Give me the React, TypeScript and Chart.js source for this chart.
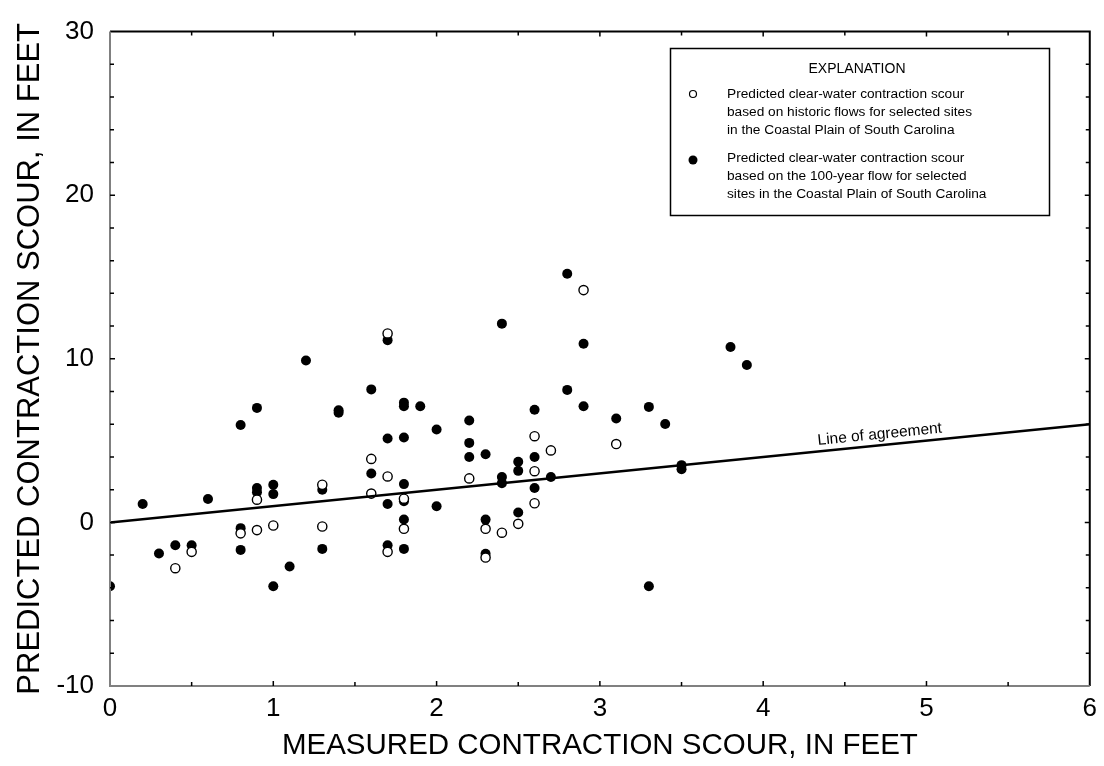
import React, { useEffect, useRef } from "react";
import { Chart, registerables } from "chart.js";

Chart.register(...registerables);

// Predicted contraction scour based on historic flows (open circles)
const historicX = [0.4, 0.5, 0.8, 0.9, 0.9, 1.0, 1.3, 1.3, 1.6, 1.6, 1.7, 1.7, 1.7, 1.8, 1.8, 2.2, 2.3, 2.3, 2.4, 2.5, 2.6, 2.6, 2.6, 2.7, 2.9, 3.1];
const historicY = [-2.8, -1.8, -0.67, 1.39, -0.47, -0.19, 2.3, -0.25, 3.88, 1.76, 11.55, 2.81, -1.8, 1.45, -0.39, 2.69, -0.39, -2.15, -0.63, -0.09, 5.27, 3.13, 1.17, 4.4, 14.2, 4.79];

// Predicted contraction scour based on the 100-year flow (filled circles)
const flow100X = [0, 0.2, 0.3, 0.4, 0.5, 0.6, 0.8, 0.8, 0.8, 0.9, 0.9, 0.9, 1.0, 1.0, 1.0, 1.1, 1.2, 1.3, 1.3, 1.4, 1.4, 1.6, 1.6, 1.7, 1.7, 1.7, 1.7, 1.8, 1.8, 1.8, 1.8, 1.8, 1.8, 1.8, 1.9, 2.0, 2.0, 2.2, 2.2, 2.2, 2.3, 2.3, 2.3, 2.4, 2.4, 2.4, 2.5, 2.5, 2.5, 2.6, 2.6, 2.6, 2.7, 2.8, 2.8, 2.9, 2.9, 3.1, 3.3, 3.3, 3.4, 3.5, 3.5, 3.8, 3.9];
const flow100Y = [-3.9, 1.13, -1.9, -1.4, -1.4, 1.43, 5.95, -0.35, -1.68, 7.0, 2.1, 1.85, 2.3, 1.73, -3.9, -2.7, 9.9, 2.0, -1.62, 6.85, 6.7, 8.13, 2.99, 11.14, 5.13, 1.13, -1.4, 7.32, 7.1, 5.19, 2.34, 1.29, 0.18, -1.62, 7.1, 5.68, 0.99, 6.23, 4.86, 4.0, 4.17, 0.17, -1.92, 12.15, 2.77, 2.4, 3.71, 3.15, 0.6, 6.89, 4.0, 2.1, 2.77, 15.2, 8.1, 10.92, 7.1, 6.35, 7.06, -3.9, 6.02, 3.5, 3.25, 10.72, 9.62];

// Line of agreement (y = x)
const agreementX = [0, 6];
const agreementY = [0, 6];

const xTickValues = [0, 1, 2, 3, 4, 5, 6];
const yTickValues = [-10, 0, 10, 20, 30];

const legendTitle = "EXPLANATION";
const legendHistoric = [
  "Predicted clear-water contraction scour",
  "based on historic flows for selected sites",
  "in the Coastal Plain of South Carolina",
];
const legend100 = [
  "Predicted clear-water contraction scour",
  "based on the 100-year flow for selected",
  "sites in the Coastal Plain of South Carolina",
];
const agreementLabel = "Line of agreement";
const xTitle = "MEASURED CONTRACTION SCOUR, IN FEET";
const yTitle = "PREDICTED CONTRACTION SCOUR, IN FEET";

const SANS = "'Liberation Sans', Arial, sans-serif";

const framePlugin = {
  id: "frame",
  afterDraw(chart: any) {
    const { ctx, chartArea: a, scales } = chart;
    const xs = scales.x;
    const ys = scales.y;
    ctx.save();
    // axes frame
    ctx.lineWidth = 2;
    ctx.strokeStyle = "#000";
    ctx.beginPath();
    ctx.moveTo(a.left, a.top);
    ctx.lineTo(a.right, a.top);
    ctx.lineTo(a.right, a.bottom);
    ctx.stroke();
    ctx.strokeStyle = "#808080";
    ctx.beginPath();
    ctx.moveTo(a.left, a.top);
    ctx.lineTo(a.left, a.bottom);
    ctx.lineTo(a.right, a.bottom);
    ctx.stroke();
    // inward ticks
    ctx.strokeStyle = "#000";
    ctx.lineWidth = 1.5;
    for (let v = 0.5; v < 6; v += 0.5) {
      const px = xs.getPixelForValue(v);
      const len = Math.abs(v - Math.round(v)) < 1e-6 ? 5 : 4;
      ctx.beginPath();
      ctx.moveTo(px, a.bottom);
      ctx.lineTo(px, a.bottom - len);
      ctx.moveTo(px, a.top);
      ctx.lineTo(px, a.top + len);
      ctx.stroke();
    }
    for (let v = -8; v < 30; v += 2) {
      const py = ys.getPixelForValue(v);
      const len = v % 10 === 0 ? 5 : 4;
      ctx.beginPath();
      ctx.moveTo(a.left, py);
      ctx.lineTo(a.left + len, py);
      ctx.moveTo(a.right, py);
      ctx.lineTo(a.right - len, py);
      ctx.stroke();
    }
    // line of agreement label
    const x0 = xs.getPixelForValue(agreementX[0]);
    const y0 = ys.getPixelForValue(agreementY[0]);
    const x1 = xs.getPixelForValue(agreementX[1]);
    const y1 = ys.getPixelForValue(agreementY[1]);
    const ang = Math.atan2(y1 - y0, x1 - x0);
    const lx = xs.getPixelForValue(4.34);
    const ly = ys.getPixelForValue(4.34);
    ctx.translate(lx, ly);
    ctx.rotate(ang);
    ctx.fillStyle = "#000";
    ctx.font = `15.5px ${SANS}`;
    ctx.textAlign = "left";
    ctx.textBaseline = "bottom";
    ctx.fillText(agreementLabel, 0, -3);
    ctx.restore();

    // legend box
    ctx.save();
    ctx.strokeStyle = "#000";
    ctx.lineWidth = 1.5;
    ctx.strokeRect(670.5, 48.5, 379, 167);
    ctx.fillStyle = "#000";
    ctx.font = `14px ${SANS}`;
    ctx.textAlign = "center";
    ctx.textBaseline = "middle";
    ctx.fillText(legendTitle, 857, 69);
    ctx.textAlign = "left";
    ctx.font = `13.7px ${SANS}`;
    legendHistoric.forEach((t, i) => ctx.fillText(t, 727, 94 + i * 18));
    legend100.forEach((t, i) => ctx.fillText(t, 727, 158 + i * 18));
    ctx.beginPath();
    ctx.arc(693, 94, 3.5, 0, Math.PI * 2);
    ctx.fillStyle = "#fff";
    ctx.fill();
    ctx.lineWidth = 1.2;
    ctx.strokeStyle = "#000";
    ctx.stroke();
    ctx.beginPath();
    ctx.arc(693, 160, 4.5, 0, Math.PI * 2);
    ctx.fillStyle = "#000";
    ctx.fill();
    ctx.restore();
  },
};

export default function App() {
  const ref = useRef<HTMLCanvasElement | null>(null);
  useEffect(() => {
    if (!ref.current) return;
    const chart = new Chart(ref.current, {
      type: "scatter",
      data: {
        datasets: [
          {
            type: "line",
            label: "Line of agreement",
            data: agreementX.map((x, i) => ({ x, y: agreementY[i] })),
            borderColor: "#000",
            borderWidth: 2.5,
            pointRadius: 0,
            fill: false,
          } as any,
          {
            label: "historic",
            data: historicX.map((x, i) => ({ x, y: historicY[i] })),
            pointRadius: 4.6,
            pointBackgroundColor: "#fff",
            pointBorderColor: "#000",
            pointBorderWidth: 1.4,
            showLine: false,
          },
          {
            label: "100-year",
            data: flow100X.map((x, i) => ({ x, y: flow100Y[i] })),
            pointRadius: 5,
            pointBackgroundColor: "#000",
            pointBorderColor: "#000",
            pointBorderWidth: 0,
            showLine: false,
          },
        ],
      },
      options: {
        animation: false,
        responsive: false,
        devicePixelRatio: 1,
        layout: { padding: { top: 27, right: 14, left: 0, bottom: 0 } },
        plugins: { legend: { display: false }, tooltip: { enabled: false } },
        scales: {
          x: {
            type: "linear",
            min: 0,
            max: 6,
            afterBuildTicks: (s: any) => {
              s.ticks = xTickValues.map((v) => ({ value: v }));
            },
            afterFit: (s: any) => {
              s.height = 80;
            },
            ticks: {
              color: "#000",
              font: { family: SANS, size: 26 },
              padding: 7,
              maxRotation: 0,
            },
            grid: { display: false, drawTicks: false },
            border: { display: false },
            title: {
              display: true,
              text: xTitle,
              color: "#000",
              font: { family: SANS, size: 29.5 },
              padding: { top: 0, bottom: 2 },
            },
          },
          y: {
            type: "linear",
            min: -10,
            max: 30,
            afterBuildTicks: (s: any) => {
              s.ticks = yTickValues.map((v) => ({ value: v }));
            },
            afterFit: (s: any) => {
              s.width = 110;
            },
            ticks: {
              color: "#000",
              font: { family: SANS, size: 26 },
              padding: 16,
            },
            grid: { display: false, drawTicks: false },
            border: { display: false },
            title: {
              display: true,
              text: yTitle,
              color: "#000",
              font: { family: SANS, size: 31 },
              padding: { top: 12, bottom: 0 },
            },
          },
        },
      },
      plugins: [framePlugin],
    });
    return () => chart.destroy();
  }, []);
  return (
    <canvas
      ref={ref}
      width={1104}
      height={766}
      style={{ position: "absolute", left: 0, top: 0, width: 1104, height: 766, display: "block" }}
    />
  );
}
